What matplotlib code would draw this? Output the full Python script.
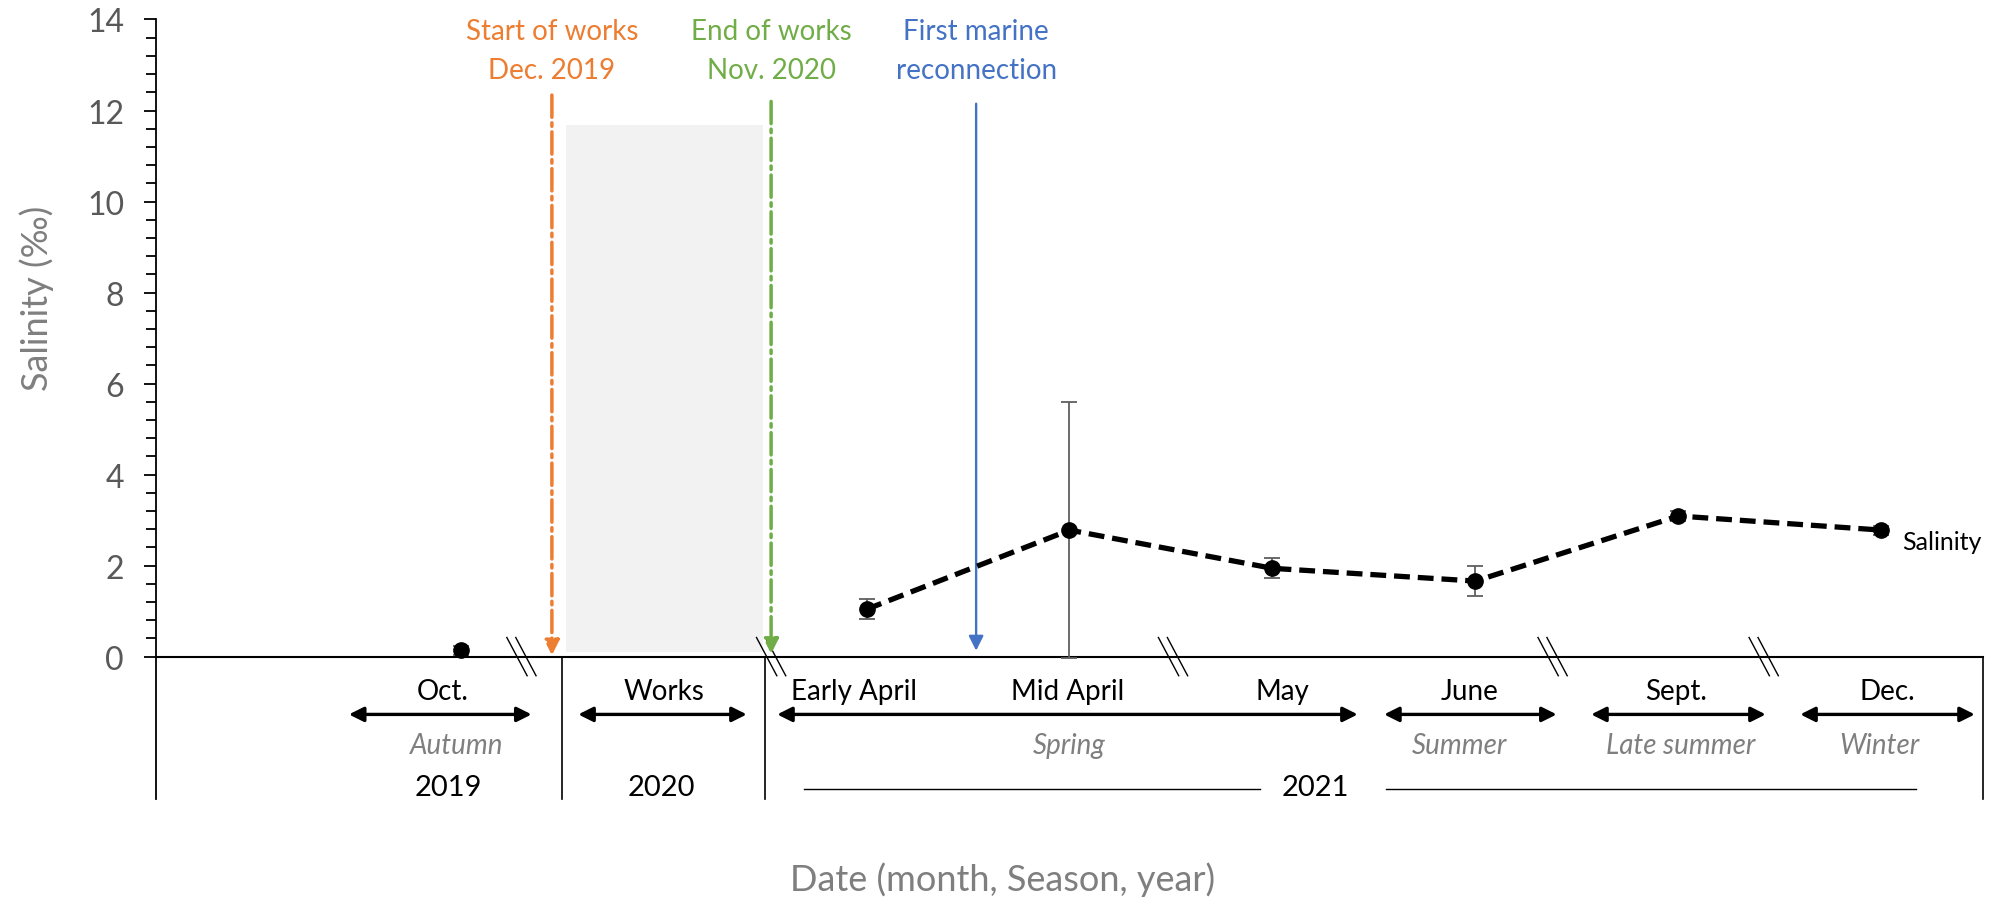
import numpy as np
import matplotlib.pyplot as plt
from matplotlib.ticker import FixedLocator

plt.rcParams['font.family'] = ['Lato', 'DejaVu Sans']

# slots on the broken time axis: 0 = Oct. 2019, 1 = works 2020, 2..7 = 2021 campaigns
month_labels = ["Oct.", "Works", "Early April", "Mid April", "May", "June", "Sept.", "Dec."]
month_label_x = [-0.09, 1.0, 1.94, 2.99, 4.05, 4.97, 5.99, 7.03]

sample_x = [0, 2, 3, 4, 5, 6, 7]
salinity = [0.14, 1.04, 2.78, 1.94, 1.66, 3.09, 2.78]
sal_err = [0.10, 0.22, 2.82, 0.22, 0.33, 0.10, 0.10]

seasons = ["Autumn", "Spring", "Summer", "Late summer", "Winter"]
season_x = [-0.02, 3.0, 4.92, 6.01, 6.99]
period_spans = [(-0.55, 0.35), (0.58, 1.41), (1.56, 4.42), (4.55, 5.40), (5.57, 6.43), (6.60, 7.46)]

years = ["2019", "2020", "2021"]
year_x = [-0.06, 0.99, 4.21]
year_bounds = [0.5, 1.5, 7.5]
year_line_2021 = [(1.69, 3.94), (4.56, 7.17)]

breaks_x = [0.30, 1.53, 3.51, 5.38, 6.42]
works_box = (0.52, 1.49, 0.1, 11.68)

events = [["Start of works", "Dec. 2019"], ["End of works", "Nov. 2020"],
          ["First marine", "reconnection"]]
event_x = [0.45, 1.53, 2.54]
event_top = [12.34, 12.2, 12.15]
event_tip = [0.03, 0.06, 0.13]
event_colors = ["#ED7D31", "#70AD47", "#4472C4"]
event_styles = ["-.", "-.", "-"]

fig = plt.figure(figsize=(20.06, 9.03), dpi=100)
ax = fig.add_axes([0.0778, 0.1145, 0.9107, 0.8628])
ax.set_xlim(-1.5, 7.5)
ax.set_ylim(-3.12, 14)

for s in ["top", "right", "bottom"]:
    ax.spines[s].set_visible(False)
ax.spines["left"].set_linewidth(1.3)
ax.set_xticks([])
ax.yaxis.set_major_locator(FixedLocator(np.arange(0, 15, 2)))
ax.yaxis.set_minor_locator(FixedLocator(np.arange(0, 14.01, 0.4)))
ax.tick_params(axis="y", which="major", length=9, width=1.3, labelsize=23,
               labelcolor="#595959", pad=14)
ax.tick_params(axis="y", which="minor", length=7, width=1.3)

# works period shading
ax.fill_between([works_box[0], works_box[1]], works_box[2], works_box[3],
                color="#f2f2f2", lw=0, zorder=0)

# time axis frame
ax.plot([-1.5, 7.5], [0, 0], color="black", lw=1.5, clip_on=False)
for xb in year_bounds:
    ax.plot([xb, xb], [0, -3.12], color="black", lw=1.2, clip_on=False)

for bx in breaks_x:
    for off in (-0.022, 0.022):
        ax.plot([bx + off - 0.05, bx + off + 0.05], [0.42, -0.42],
                color="black", lw=1.0, clip_on=False)

# events
for lines, x, top, tip, c, ls in zip(events, event_x, event_top, event_tip,
                                     event_colors, event_styles):
    ax.annotate("", xy=(x, tip), xytext=(x, top),
                arrowprops=dict(arrowstyle="-|>", color=c, lw=2.5 if ls == "-." else 1.7,
                                ls=ls, mutation_scale=22, shrinkA=0, shrinkB=0))
    ax.text(x, 13.75, lines[0], color=c, fontsize=20, ha="center", va="center")
    ax.text(x, 12.88, lines[1], color=c, fontsize=20, ha="center", va="center")

# salinity data
ax.errorbar(sample_x, salinity, yerr=sal_err, fmt="none", ecolor="#5f5f5f",
            elinewidth=1.3, capsize=6, capthick=1.3, zorder=3)
ax.plot(sample_x[1:], salinity[1:], color="black", lw=3.8, ls=(0, (3, 1.5)), zorder=4)
ax.plot(sample_x, salinity, "o", color="black", ms=11, zorder=5)
ax.text(7.1, 2.54, "Salinity", fontsize=18, ha="left", va="center")

# date labels under the axis
for lab, x in zip(month_labels, month_label_x):
    ax.text(x, -0.75, lab, fontsize=20, ha="center", va="center")
for a, b in period_spans:
    ax.annotate("", xy=(b, -1.27), xytext=(a, -1.27),
                arrowprops=dict(arrowstyle="<|-|>", color="black", lw=2.4,
                                mutation_scale=22, shrinkA=0, shrinkB=0),
                annotation_clip=False)
for lab, x in zip(seasons, season_x):
    ax.text(x, -1.95, lab, fontsize=20, ha="center", va="center",
            style="italic", color="#7f7f7f")
for lab, x in zip(years, year_x):
    ax.text(x, -2.86, lab, fontsize=21, ha="center", va="center")
for a, b in year_line_2021:
    ax.plot([a, b], [-2.9, -2.9], color="black", lw=1.0, clip_on=False)

fig.text(0.5, 0.0255, "Date (month, Season, year)", fontsize=26, color="#7f7f7f",
         ha="center", va="center")
fig.text(0.0185, 0.67, "Salinity (‰)", fontsize=26, color="#7f7f7f",
         ha="center", va="center", rotation=90)

fig.savefig("out.png", dpi=100)
